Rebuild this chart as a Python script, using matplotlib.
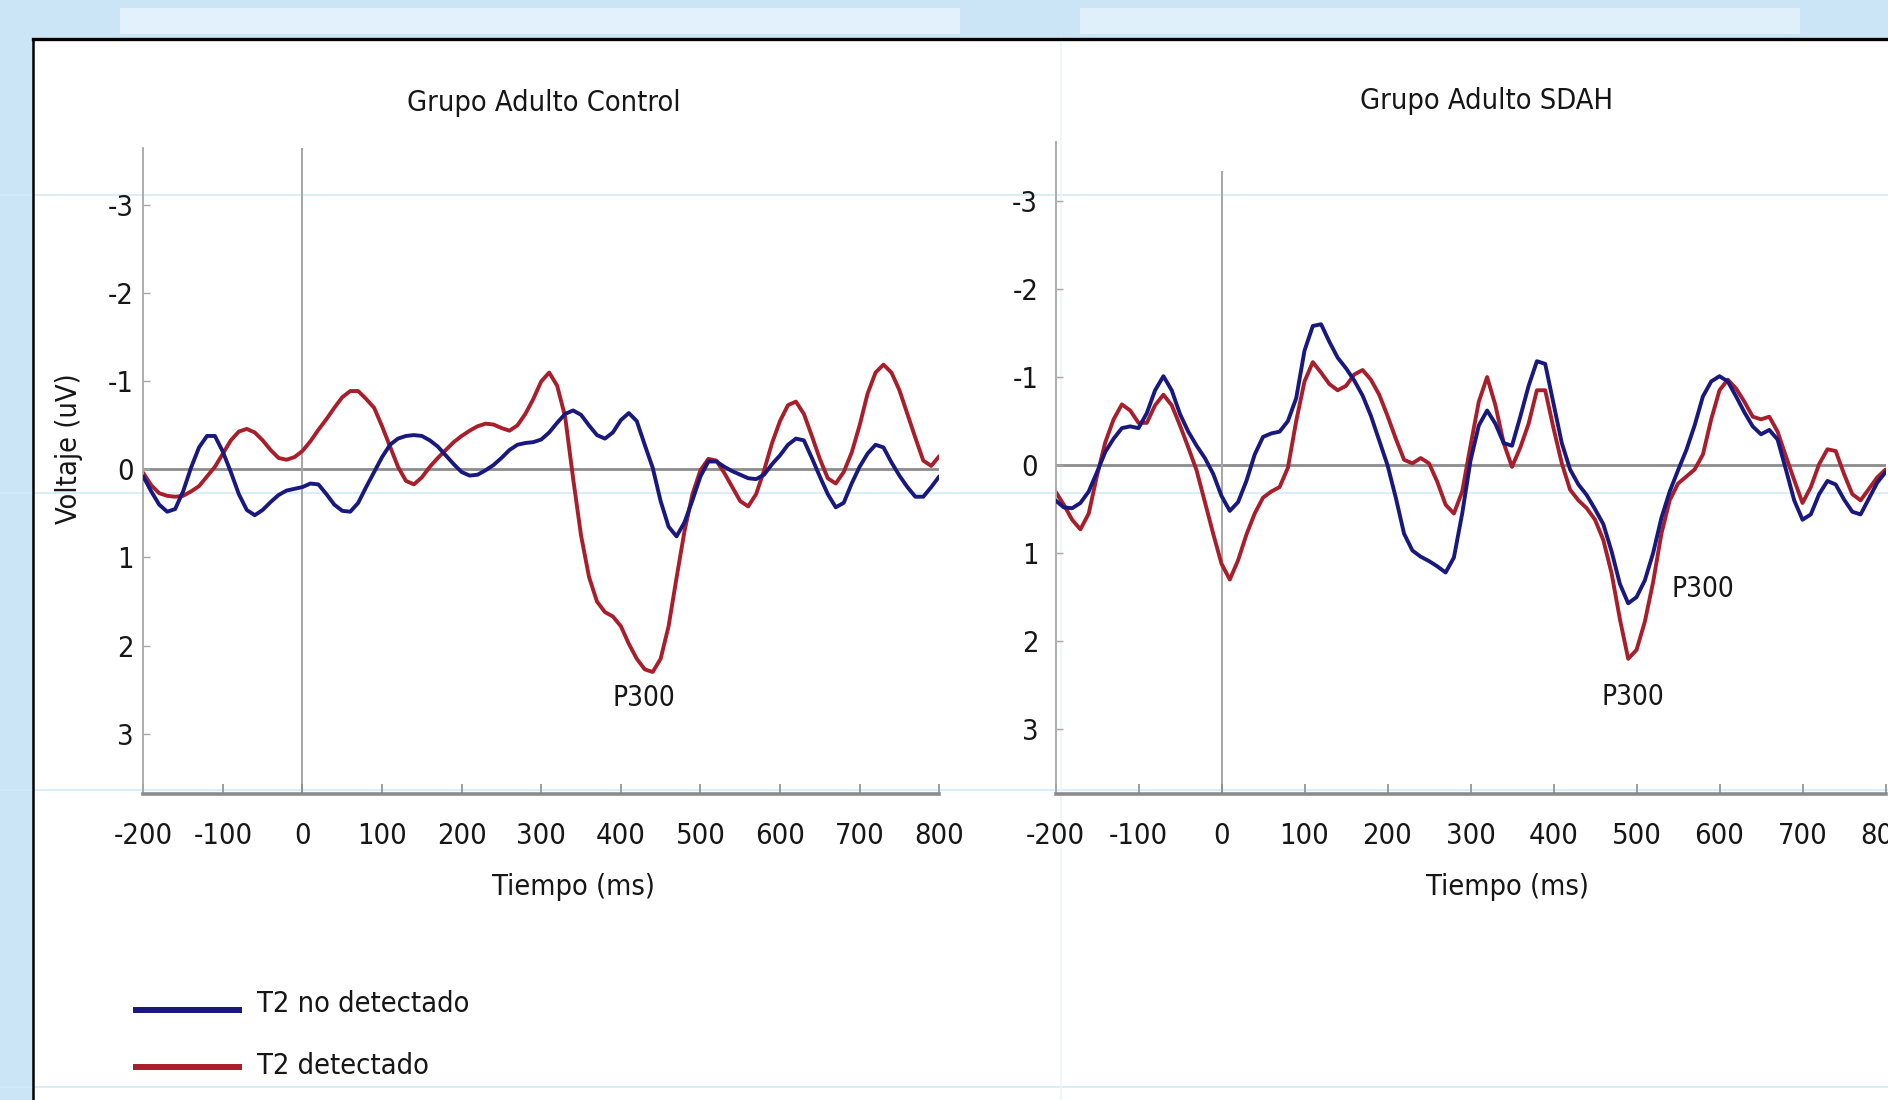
import numpy as np
import matplotlib
matplotlib.use("Agg")
import matplotlib.pyplot as plt
from matplotlib import font_manager as fm
from matplotlib.lines import Line2D
from matplotlib.patches import Rectangle

# ---------------- data ----------------
time_ms = np.arange(-200, 801, 10)

control_no = [0.08, 0.25, 0.40, 0.48, 0.45, 0.25, -0.02, -0.25, -0.38, -0.38,
              -0.20, 0.03, 0.28, 0.46, 0.52, 0.46, 0.37, 0.29, 0.24, 0.22,
              0.20, 0.16, 0.17, 0.28, 0.40, 0.47, 0.48, 0.38, 0.20, 0.03,
              -0.14, -0.28, -0.35, -0.38, -0.39, -0.38, -0.33, -0.26, -0.16, -0.06,
              0.03, 0.07, 0.06, 0.01, -0.05, -0.13, -0.22, -0.28, -0.30, -0.31,
              -0.34, -0.42, -0.53, -0.63, -0.67, -0.62, -0.50, -0.39, -0.35, -0.42,
              -0.56, -0.64, -0.55, -0.28, -0.02, 0.36, 0.65, 0.76, 0.60, 0.35,
              0.08, -0.09, -0.09, -0.03, 0.02, 0.06, 0.10, 0.11, 0.06, -0.06,
              -0.16, -0.28, -0.35, -0.33, -0.13, 0.08, 0.28, 0.43, 0.38, 0.16,
              -0.03, -0.18, -0.28, -0.25, -0.08, 0.07, 0.20, 0.31, 0.31, 0.20,
              0.08]

control_det = [0.04, 0.18, 0.27, 0.30, 0.31, 0.30, 0.25, 0.19, 0.08, -0.03,
               -0.18, -0.33, -0.43, -0.46, -0.42, -0.33, -0.22, -0.13, -0.11, -0.14,
               -0.21, -0.32, -0.45, -0.57, -0.70, -0.82, -0.89, -0.89, -0.80, -0.70,
               -0.49, -0.26, -0.03, 0.13, 0.17, 0.09, -0.03, -0.13, -0.22, -0.31,
               -0.38, -0.44, -0.49, -0.52, -0.51, -0.47, -0.44, -0.50, -0.63, -0.80,
               -1.00, -1.10, -0.95, -0.60, 0.10, 0.75, 1.22, 1.50, 1.62, 1.67,
               1.78, 1.98, 2.15, 2.27, 2.30, 2.15, 1.78, 1.23, 0.70, 0.28,
               0.01, -0.12, -0.10, 0.04, 0.20, 0.36, 0.42, 0.28, 0.01, -0.30,
               -0.55, -0.73, -0.77, -0.63, -0.38, -0.12, 0.10, 0.16, 0.03, -0.19,
               -0.50, -0.86, -1.10, -1.19, -1.10, -0.90, -0.63, -0.36, -0.10, -0.04,
               -0.15]

sdah_no = [0.40, 0.48, 0.49, 0.43, 0.30, 0.08, -0.15, -0.30, -0.42, -0.44,
           -0.42, -0.59, -0.85, -1.01, -0.85, -0.58, -0.38, -0.22, -0.08, 0.10,
           0.35, 0.52, 0.42, 0.18, -0.12, -0.32, -0.36, -0.38, -0.50, -0.76,
           -1.30, -1.58, -1.60, -1.40, -1.22, -1.10, -0.96, -0.79, -0.56, -0.28,
           0.00, 0.37, 0.78, 0.97, 1.04, 1.09, 1.15, 1.22, 1.05, 0.55,
           -0.05, -0.45, -0.62, -0.47, -0.25, -0.22, -0.55, -0.90, -1.18, -1.15,
           -0.70, -0.25, 0.05, 0.22, 0.34, 0.50, 0.67, 0.98, 1.35, 1.57,
           1.50, 1.31, 1.00, 0.60, 0.30, 0.06, -0.17, -0.45, -0.78, -0.95,
           -1.01, -0.95, -0.78, -0.60, -0.44, -0.35, -0.40, -0.29, 0.05, 0.40,
           0.62, 0.56, 0.33, 0.18, 0.22, 0.39, 0.53, 0.56, 0.38, 0.20,
           0.08]

sdah_det = [0.30, 0.45, 0.62, 0.73, 0.55, 0.12, -0.26, -0.52, -0.69, -0.62,
            -0.48, -0.48, -0.68, -0.80, -0.68, -0.45, -0.20, 0.06, 0.42, 0.78,
            1.12, 1.30, 1.08, 0.79, 0.55, 0.37, 0.30, 0.25, 0.03, -0.50,
            -0.95, -1.17, -1.05, -0.92, -0.85, -0.90, -1.03, -1.08, -0.97, -0.80,
            -0.56, -0.30, -0.06, -0.02, -0.08, -0.02, 0.19, 0.45, 0.55, 0.30,
            -0.22, -0.72, -1.00, -0.68, -0.25, 0.02, -0.20, -0.47, -0.85, -0.85,
            -0.42, -0.02, 0.28, 0.40, 0.49, 0.62, 0.85, 1.23, 1.75, 2.20,
            2.10, 1.78, 1.33, 0.78, 0.40, 0.21, 0.13, 0.05, -0.12, -0.52,
            -0.85, -0.97, -0.87, -0.72, -0.55, -0.52, -0.55, -0.38, -0.10, 0.17,
            0.43, 0.25, -0.01, -0.18, -0.16, 0.10, 0.33, 0.40, 0.27, 0.14,
            0.05]

x_ticks = [-200, -100, 0, 100, 200, 300, 400, 500, 600, 700, 800]
x_tick_labels = ["-200", "-100", "0", "100", "200", "300", "400", "500", "600", "700", "800"]
y_ticks = [-3, -2, -1, 0, 1, 2, 3]
y_tick_labels = ["-3", "-2", "-1", "0", "1", "2", "3"]
panel_titles = ["Grupo Adulto Control", "Grupo Adulto SDAH"]
series_labels = ["T2 no detectado", "T2 detectado"]
x_label = "Tiempo (ms)"
y_label = "Voltaje (uV)"
peak_label = "P300"

# ---------------- fonts ----------------
names = {f.name for f in fm.fontManager.ttflist}
if "Liberation Sans Narrow" in names:
    FAM, SC = "Liberation Sans Narrow", 1.0
    plt.rcParams["font.family"] = [FAM, "DejaVu Sans"]
else:
    cond = [f for f in fm.fontManager.ttflist
            if f.name == "DejaVu Sans" and "ondensed" in f.fname]
    if cond:
        FAM, SC = "DejaVu Sans", 0.8
        plt.rcParams["font.family"] = ["DejaVu Sans"]
        plt.rcParams["font.stretch"] = "condensed"
    else:
        FAM, SC = "DejaVu Sans", 0.72
        plt.rcParams["font.family"] = ["DejaVu Sans"]

FS = 26 * SC
TXT = "#161616"
BLUE = "#18187f"
RED = "#a81e2a"
GRID = "#8c8c8c"

W, H = 1888, 1100
fig = plt.figure(figsize=(W / 100, H / 100), dpi=100)
fig.patch.set_facecolor("#cbe5f6")


def fx(px):
    return px / W


def fy(py):
    return 1 - py / H


# background decoration (slide), kept behind the axes
def add_rect(x0, y0, x1, y1, color):
    fig.patches.append(Rectangle((fx(x0), fy(y1)), fx(x1) - fx(x0), fy(y0) - fy(y1),
                                 transform=fig.transFigure, facecolor=color,
                                 edgecolor="none", zorder=-3))


add_rect(120, 8, 960, 34, "#e2f1fb")
add_rect(1080, 8, 1800, 34, "#e0f0fa")
add_rect(33, 38, W, H, "white")
for gy in [195, 493, 790, 1087]:
    fig.lines.append(Line2D([0, 1], [fy(gy), fy(gy)], transform=fig.transFigure,
                            color="#d3eafa", lw=1.2, zorder=-2))
fig.lines.append(Line2D([fx(1061), fx(1061)], [0, fy(38)], transform=fig.transFigure,
                        color="#eef3f6", lw=1.2, zorder=-2))
fig.lines.append(Line2D([fx(33), 1], [fy(38.5), fy(38.5)], transform=fig.transFigure,
                        color="black", lw=2.4, zorder=-1))
fig.lines.append(Line2D([fx(33), fx(33)], [0, fy(38.5)], transform=fig.transFigure,
                        color="black", lw=1.8, zorder=-1))

# ---------------- axes ----------------
panels = [
    dict(rect=(143.3, 148, 939.2, 793.5), ylim=(3.68, -3.65), data=(control_no, control_det),
         vtop=-3.65, ypad=7, title_xy=(0.5034, 1.0697), xl=(0.54, -0.1449),
         peaks=[(429, 2.6)]),
    dict(rect=(1055.5, 142, 1885.5, 793.5), ylim=(3.73, -3.67), data=(sdah_no, sdah_det),
         vtop=-3.34, ypad=12.5, title_xy=(0.5187, 1.0629), xl=(0.5446, -0.1435),
         peaks=[(580, 1.41), (496, 2.63)]),
]

em_px = FS * 100 / 72
xpad_pt = (45.5 - 0.58 * em_px) * 72 / 100

axes = []
for i, p in enumerate(panels):
    x0, y0, x1, y1 = p["rect"]
    ax = fig.add_axes([fx(x0), fy(y1), fx(x1) - fx(x0), fy(y0) - fy(y1)])
    ax.set_zorder(1)
    ax.set_facecolor("none")
    ax.set_xlim(-200, 800)
    ax.set_ylim(*p["ylim"])
    for s in ["top", "right"]:
        ax.spines[s].set_visible(False)
    ax.spines["left"].set_color("#a6a6a6")
    ax.spines["left"].set_linewidth(1.3)
    ax.spines["bottom"].set_color(GRID)
    ax.spines["bottom"].set_linewidth(2.6)

    ax.axhline(0, color=GRID, lw=2.0, zorder=1)
    ax.vlines(0, p["ylim"][0], p["vtop"], color="#a6a6a6", lw=1.4, zorder=1)

    no, det = p["data"]
    ax.plot(time_ms, no, color=BLUE, lw=2.8, zorder=3,
            solid_capstyle="round", solid_joinstyle="round")
    ax.plot(time_ms, det, color=RED, lw=2.8, zorder=2,
            solid_capstyle="round", solid_joinstyle="round")

    ax.set_xticks(x_ticks)
    ax.set_xticklabels(x_tick_labels)
    ax.set_yticks(y_ticks)
    ax.set_yticklabels(y_tick_labels)
    ax.tick_params(axis="x", direction="in", length=7, width=1.2, colors=GRID,
                   labelcolor=TXT, labelsize=FS, pad=xpad_pt)
    ax.tick_params(axis="y", direction="in", length=5, width=1.0, colors="#a6a6a6",
                   labelcolor=TXT, labelsize=FS, pad=p["ypad"])

    ax.text(p["title_xy"][0], p["title_xy"][1], panel_titles[i], transform=ax.transAxes,
            ha="center", va="center", fontsize=FS, color=TXT)
    ax.set_xlabel(x_label, fontsize=FS, color=TXT)
    ax.xaxis.set_label_coords(*p["xl"])
    ax.xaxis.label.set_va("center")
    for (tx, ty) in p["peaks"]:
        ax.text(tx, ty, peak_label, ha="center", va="center", fontsize=25 * SC, color=TXT)
    axes.append(ax)

axes[0].set_ylabel(y_label, fontsize=FS, color=TXT)
axes[0].yaxis.set_label_coords(-0.0939, 0.5337)
axes[0].yaxis.label.set_va("center")

# ---------------- legend ----------------
for lbl, col, ly, ty in [(series_labels[0], BLUE, 1010, 1004), (series_labels[1], RED, 1067, 1066)]:
    fig.lines.append(Line2D([fx(136), fx(239)], [fy(ly), fy(ly)], transform=fig.transFigure,
                            color=col, lw=4.3, zorder=2))
    fig.text(fx(257), fy(ty), lbl, ha="left", va="center", fontsize=FS, color=TXT)

fig.savefig("out.png", dpi=100, facecolor=fig.get_facecolor())
